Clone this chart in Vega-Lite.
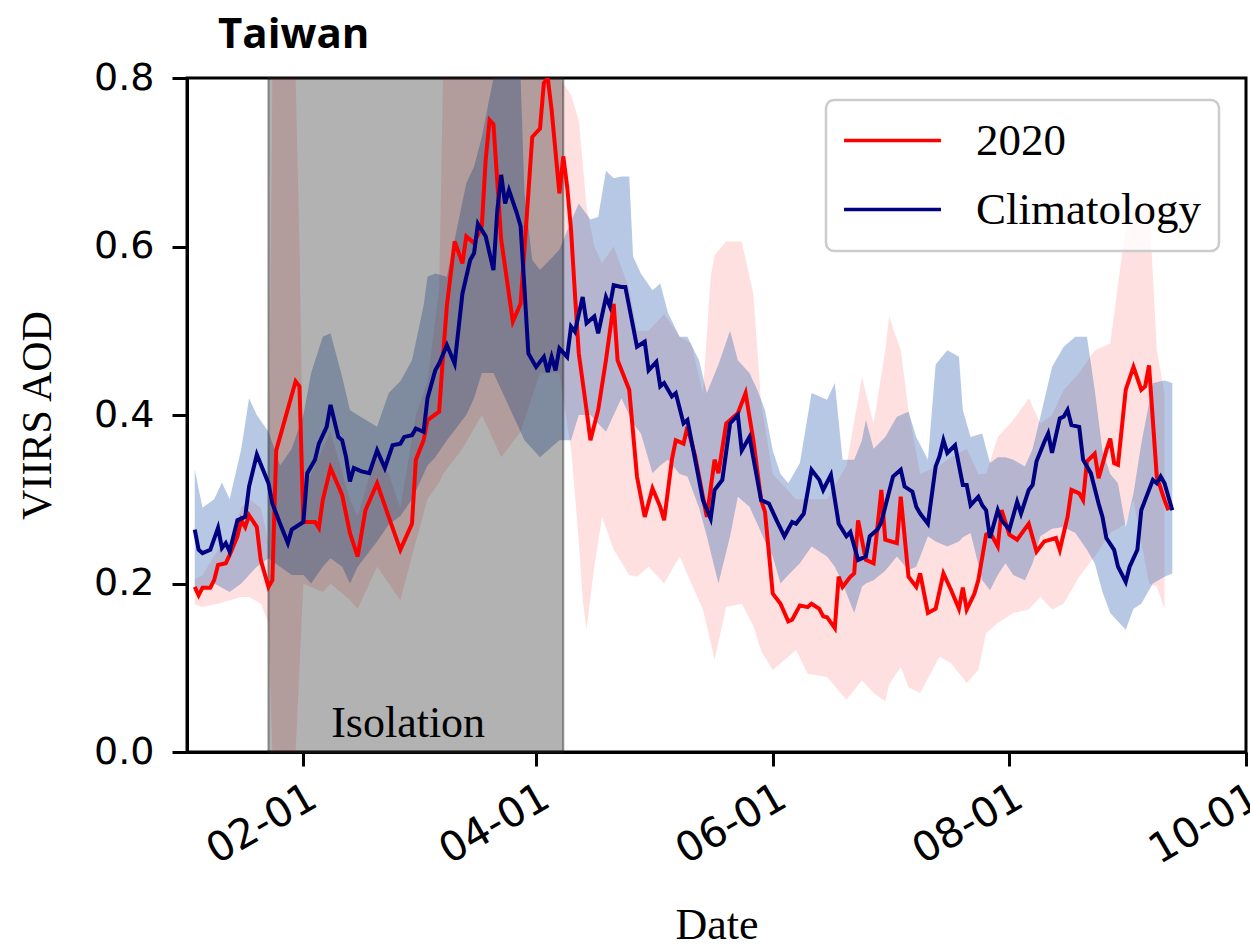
{
"$schema": "https://vega.github.io/schema/vega-lite/v6.json",
"width": 1059, "height": 674,
"autosize": {"type": "none"},
"padding": {"left": 187, "top": 78, "right": 4, "bottom": 196},
"background": "white",
"title": {"text": "Taiwan", "anchor": "start", "frame": "group", "dx": 31, "dy": 60, "offset": 29, "baseline": "alphabetic", "font": "Open Sans", "fontWeight": "bold", "fontSize": 42, "color": "black"},
"config": {
  "view": {"stroke": "black", "strokeWidth": 3},
  "legend": {"strokeColor": "#cccccc", "strokeWidth": 2.5, "cornerRadius": 8, "fillColor": "rgba(255,255,255,0.8)", "padding": 16}
},
"datasets": {
"lines": [
{"date":"2020-01-04","series":"2020","aod":0.196},{"date":"2020-01-05","series":"2020","aod":0.186},{"date":"2020-01-06","series":"2020","aod":0.195},{"date":"2020-01-08","series":"2020","aod":0.195},{"date":"2020-01-09","series":"2020","aod":0.204},{"date":"2020-01-10","series":"2020","aod":0.222},{"date":"2020-01-12","series":"2020","aod":0.224},{"date":"2020-01-13","series":"2020","aod":0.234},{"date":"2020-01-15","series":"2020","aod":0.256},{"date":"2020-01-16","series":"2020","aod":0.275},{"date":"2020-01-17","series":"2020","aod":0.267},{"date":"2020-01-18","series":"2020","aod":0.281},{"date":"2020-01-20","series":"2020","aod":0.267},{"date":"2020-01-21","series":"2020","aod":0.228},{"date":"2020-01-23","series":"2020","aod":0.196},{"date":"2020-01-24","series":"2020","aod":0.204},{"date":"2020-01-25","series":"2020","aod":0.358},{"date":"2020-01-30","series":"2020","aod":0.44},{"date":"2020-01-31","series":"2020","aod":0.434},{"date":"2020-02-01","series":"2020","aod":0.273},{"date":"2020-02-04","series":"2020","aod":0.273},{"date":"2020-02-05","series":"2020","aod":0.266},{"date":"2020-02-06","series":"2020","aod":0.299},{"date":"2020-02-08","series":"2020","aod":0.337},{"date":"2020-02-11","series":"2020","aod":0.305},{"date":"2020-02-13","series":"2020","aod":0.26},{"date":"2020-02-15","series":"2020","aod":0.232},{"date":"2020-02-17","series":"2020","aod":0.287},{"date":"2020-02-20","series":"2020","aod":0.319},{"date":"2020-02-23","series":"2020","aod":0.279},{"date":"2020-02-26","series":"2020","aod":0.24},{"date":"2020-02-29","series":"2020","aod":0.271},{"date":"2020-03-01","series":"2020","aod":0.347},{"date":"2020-03-03","series":"2020","aod":0.37},{"date":"2020-03-04","series":"2020","aod":0.394},{"date":"2020-03-07","series":"2020","aod":0.404},{"date":"2020-03-08","series":"2020","aod":0.47},{"date":"2020-03-09","series":"2020","aod":0.53},{"date":"2020-03-10","series":"2020","aod":0.568},{"date":"2020-03-11","series":"2020","aod":0.606},{"date":"2020-03-13","series":"2020","aod":0.58},{"date":"2020-03-14","series":"2020","aod":0.612},{"date":"2020-03-16","series":"2020","aod":0.604},{"date":"2020-03-18","series":"2020","aod":0.624},{"date":"2020-03-19","series":"2020","aod":0.703},{"date":"2020-03-20","series":"2020","aod":0.75},{"date":"2020-03-21","series":"2020","aod":0.745},{"date":"2020-03-23","series":"2020","aod":0.608},{"date":"2020-03-26","series":"2020","aod":0.511},{"date":"2020-03-28","series":"2020","aod":0.532},{"date":"2020-03-30","series":"2020","aod":0.663},{"date":"2020-03-31","series":"2020","aod":0.73},{"date":"2020-04-01","series":"2020","aod":0.735},{"date":"2020-04-02","series":"2020","aod":0.74},{"date":"2020-04-03","series":"2020","aod":0.794},{"date":"2020-04-04","series":"2020","aod":0.8},{"date":"2020-04-05","series":"2020","aod":0.762},{"date":"2020-04-07","series":"2020","aod":0.663},{"date":"2020-04-08","series":"2020","aod":0.707},{"date":"2020-04-09","series":"2020","aod":0.671},{"date":"2020-04-10","series":"2020","aod":0.62},{"date":"2020-04-11","series":"2020","aod":0.544},{"date":"2020-04-12","series":"2020","aod":0.473},{"date":"2020-04-14","series":"2020","aod":0.406},{"date":"2020-04-15","series":"2020","aod":0.37},{"date":"2020-04-17","series":"2020","aod":0.406},{"date":"2020-04-19","series":"2020","aod":0.465},{"date":"2020-04-21","series":"2020","aod":0.532},{"date":"2020-04-22","series":"2020","aod":0.465},{"date":"2020-04-25","series":"2020","aod":0.43},{"date":"2020-04-27","series":"2020","aod":0.327},{"date":"2020-04-29","series":"2020","aod":0.279},{"date":"2020-05-01","series":"2020","aod":0.313},{"date":"2020-05-03","series":"2020","aod":0.291},{"date":"2020-05-04","series":"2020","aod":0.275},{"date":"2020-05-06","series":"2020","aod":0.347},{"date":"2020-05-07","series":"2020","aod":0.37},{"date":"2020-05-09","series":"2020","aod":0.366},{"date":"2020-05-10","series":"2020","aod":0.386},{"date":"2020-05-12","series":"2020","aod":0.351},{"date":"2020-05-15","series":"2020","aod":0.279},{"date":"2020-05-17","series":"2020","aod":0.347},{"date":"2020-05-18","series":"2020","aod":0.331},{"date":"2020-05-20","series":"2020","aod":0.39},{"date":"2020-05-23","series":"2020","aod":0.402},{"date":"2020-05-25","series":"2020","aod":0.426},{"date":"2020-05-27","series":"2020","aod":0.37},{"date":"2020-05-29","series":"2020","aod":0.299},{"date":"2020-05-30","series":"2020","aod":0.285},{"date":"2020-06-01","series":"2020","aod":0.188},{"date":"2020-06-03","series":"2020","aod":0.176},{"date":"2020-06-05","series":"2020","aod":0.155},{"date":"2020-06-06","series":"2020","aod":0.157},{"date":"2020-06-08","series":"2020","aod":0.174},{"date":"2020-06-10","series":"2020","aod":0.172},{"date":"2020-06-11","series":"2020","aod":0.176},{"date":"2020-06-13","series":"2020","aod":0.17},{"date":"2020-06-14","series":"2020","aod":0.161},{"date":"2020-06-15","series":"2020","aod":0.16},{"date":"2020-06-17","series":"2020","aod":0.147},{"date":"2020-06-18","series":"2020","aod":0.208},{"date":"2020-06-19","series":"2020","aod":0.196},{"date":"2020-06-21","series":"2020","aod":0.208},{"date":"2020-06-22","series":"2020","aod":0.212},{"date":"2020-06-23","series":"2020","aod":0.275},{"date":"2020-06-25","series":"2020","aod":0.228},{"date":"2020-06-27","series":"2020","aod":0.224},{"date":"2020-06-28","series":"2020","aod":0.267},{"date":"2020-06-29","series":"2020","aod":0.311},{"date":"2020-06-30","series":"2020","aod":0.252},{"date":"2020-07-03","series":"2020","aod":0.248},{"date":"2020-07-04","series":"2020","aod":0.303},{"date":"2020-07-06","series":"2020","aod":0.208},{"date":"2020-07-08","series":"2020","aod":0.196},{"date":"2020-07-09","series":"2020","aod":0.212},{"date":"2020-07-11","series":"2020","aod":0.165},{"date":"2020-07-13","series":"2020","aod":0.17},{"date":"2020-07-15","series":"2020","aod":0.212},{"date":"2020-07-17","series":"2020","aod":0.192},{"date":"2020-07-19","series":"2020","aod":0.17},{"date":"2020-07-20","series":"2020","aod":0.195},{"date":"2020-07-21","series":"2020","aod":0.169},{"date":"2020-07-23","series":"2020","aod":0.188},{"date":"2020-07-24","series":"2020","aod":0.204},{"date":"2020-07-26","series":"2020","aod":0.258},{"date":"2020-07-27","series":"2020","aod":0.261},{"date":"2020-07-29","series":"2020","aod":0.244},{"date":"2020-07-30","series":"2020","aod":0.287},{"date":"2020-08-01","series":"2020","aod":0.258},{"date":"2020-08-03","series":"2020","aod":0.252},{"date":"2020-08-06","series":"2020","aod":0.271},{"date":"2020-08-08","series":"2020","aod":0.238},{"date":"2020-08-10","series":"2020","aod":0.25},{"date":"2020-08-13","series":"2020","aod":0.254},{"date":"2020-08-14","series":"2020","aod":0.24},{"date":"2020-08-16","series":"2020","aod":0.279},{"date":"2020-08-17","series":"2020","aod":0.311},{"date":"2020-08-19","series":"2020","aod":0.307},{"date":"2020-08-20","series":"2020","aod":0.299},{"date":"2020-08-21","series":"2020","aod":0.345},{"date":"2020-08-23","series":"2020","aod":0.354},{"date":"2020-08-24","series":"2020","aod":0.325},{"date":"2020-08-26","series":"2020","aod":0.358},{"date":"2020-08-27","series":"2020","aod":0.372},{"date":"2020-08-28","series":"2020","aod":0.343},{"date":"2020-08-29","series":"2020","aod":0.341},{"date":"2020-08-31","series":"2020","aod":0.43},{"date":"2020-09-02","series":"2020","aod":0.457},{"date":"2020-09-04","series":"2020","aod":0.43},{"date":"2020-09-05","series":"2020","aod":0.434},{"date":"2020-09-06","series":"2020","aod":0.459},{"date":"2020-09-08","series":"2020","aod":0.327},{"date":"2020-09-10","series":"2020","aod":0.299},{"date":"2020-09-11","series":"2020","aod":0.287},
{"date":"2020-01-04","series":"Climatology","aod":0.264},{"date":"2020-01-05","series":"Climatology","aod":0.24},{"date":"2020-01-06","series":"Climatology","aod":0.236},{"date":"2020-01-08","series":"Climatology","aod":0.24},{"date":"2020-01-10","series":"Climatology","aod":0.266},{"date":"2020-01-11","series":"Climatology","aod":0.242},{"date":"2020-01-12","series":"Climatology","aod":0.248},{"date":"2020-01-13","series":"Climatology","aod":0.238},{"date":"2020-01-15","series":"Climatology","aod":0.275},{"date":"2020-01-17","series":"Climatology","aod":0.279},{"date":"2020-01-18","series":"Climatology","aod":0.315},{"date":"2020-01-20","series":"Climatology","aod":0.353},{"date":"2020-01-23","series":"Climatology","aod":0.319},{"date":"2020-01-24","series":"Climatology","aod":0.295},{"date":"2020-01-26","series":"Climatology","aod":0.271},{"date":"2020-01-28","series":"Climatology","aod":0.248},{"date":"2020-01-29","series":"Climatology","aod":0.264},{"date":"2020-02-01","series":"Climatology","aod":0.273},{"date":"2020-02-02","series":"Climatology","aod":0.331},{"date":"2020-02-04","series":"Climatology","aod":0.347},{"date":"2020-02-05","series":"Climatology","aod":0.366},{"date":"2020-02-07","series":"Climatology","aod":0.386},{"date":"2020-02-08","series":"Climatology","aod":0.412},{"date":"2020-02-10","series":"Climatology","aod":0.374},{"date":"2020-02-11","series":"Climatology","aod":0.37},{"date":"2020-02-12","series":"Climatology","aod":0.35},{"date":"2020-02-13","series":"Climatology","aod":0.321},{"date":"2020-02-14","series":"Climatology","aod":0.337},{"date":"2020-02-16","series":"Climatology","aod":0.333},{"date":"2020-02-18","series":"Climatology","aod":0.331},{"date":"2020-02-20","series":"Climatology","aod":0.358},{"date":"2020-02-22","series":"Climatology","aod":0.337},{"date":"2020-02-24","series":"Climatology","aod":0.364},{"date":"2020-02-26","series":"Climatology","aod":0.366},{"date":"2020-02-27","series":"Climatology","aod":0.374},{"date":"2020-02-29","series":"Climatology","aod":0.376},{"date":"2020-03-01","series":"Climatology","aod":0.384},{"date":"2020-03-03","series":"Climatology","aod":0.38},{"date":"2020-03-04","series":"Climatology","aod":0.42},{"date":"2020-03-06","series":"Climatology","aod":0.453},{"date":"2020-03-07","series":"Climatology","aod":0.461},{"date":"2020-03-09","series":"Climatology","aod":0.483},{"date":"2020-03-11","series":"Climatology","aod":0.461},{"date":"2020-03-13","series":"Climatology","aod":0.544},{"date":"2020-03-15","series":"Climatology","aod":0.584},{"date":"2020-03-16","series":"Climatology","aod":0.592},{"date":"2020-03-17","series":"Climatology","aod":0.627},{"date":"2020-03-19","series":"Climatology","aod":0.612},{"date":"2020-03-20","series":"Climatology","aod":0.592},{"date":"2020-03-21","series":"Climatology","aod":0.572},{"date":"2020-03-22","series":"Climatology","aod":0.643},{"date":"2020-03-23","series":"Climatology","aod":0.685},{"date":"2020-03-24","series":"Climatology","aod":0.651},{"date":"2020-03-25","series":"Climatology","aod":0.667},{"date":"2020-03-27","series":"Climatology","aod":0.64},{"date":"2020-03-28","series":"Climatology","aod":0.624},{"date":"2020-03-29","series":"Climatology","aod":0.55},{"date":"2020-03-30","series":"Climatology","aod":0.473},{"date":"2020-04-01","series":"Climatology","aod":0.457},{"date":"2020-04-03","series":"Climatology","aod":0.469},{"date":"2020-04-04","series":"Climatology","aod":0.451},{"date":"2020-04-05","series":"Climatology","aod":0.469},{"date":"2020-04-06","series":"Climatology","aod":0.453},{"date":"2020-04-07","series":"Climatology","aod":0.479},{"date":"2020-04-09","series":"Climatology","aod":0.469},{"date":"2020-04-10","series":"Climatology","aod":0.505},{"date":"2020-04-11","series":"Climatology","aod":0.499},{"date":"2020-04-13","series":"Climatology","aod":0.54},{"date":"2020-04-14","series":"Climatology","aod":0.509},{"date":"2020-04-16","series":"Climatology","aod":0.517},{"date":"2020-04-17","series":"Climatology","aod":0.497},{"date":"2020-04-19","series":"Climatology","aod":0.54},{"date":"2020-04-20","series":"Climatology","aod":0.529},{"date":"2020-04-21","series":"Climatology","aod":0.554},{"date":"2020-04-23","series":"Climatology","aod":0.552},{"date":"2020-04-24","series":"Climatology","aod":0.552},{"date":"2020-04-26","series":"Climatology","aod":0.505},{"date":"2020-04-27","series":"Climatology","aod":0.481},{"date":"2020-04-29","series":"Climatology","aod":0.487},{"date":"2020-04-30","series":"Climatology","aod":0.453},{"date":"2020-05-02","series":"Climatology","aod":0.463},{"date":"2020-05-03","series":"Climatology","aod":0.434},{"date":"2020-05-04","series":"Climatology","aod":0.438},{"date":"2020-05-06","series":"Climatology","aod":0.422},{"date":"2020-05-07","series":"Climatology","aod":0.426},{"date":"2020-05-09","series":"Climatology","aod":0.39},{"date":"2020-05-10","series":"Climatology","aod":0.394},{"date":"2020-05-12","series":"Climatology","aod":0.347},{"date":"2020-05-14","series":"Climatology","aod":0.299},{"date":"2020-05-16","series":"Climatology","aod":0.277},{"date":"2020-05-17","series":"Climatology","aod":0.311},{"date":"2020-05-19","series":"Climatology","aod":0.323},{"date":"2020-05-21","series":"Climatology","aod":0.39},{"date":"2020-05-23","series":"Climatology","aod":0.4},{"date":"2020-05-24","series":"Climatology","aod":0.358},{"date":"2020-05-26","series":"Climatology","aod":0.374},{"date":"2020-05-29","series":"Climatology","aod":0.299},{"date":"2020-05-31","series":"Climatology","aod":0.295},{"date":"2020-06-02","series":"Climatology","aod":0.275},{"date":"2020-06-04","series":"Climatology","aod":0.256},{"date":"2020-06-06","series":"Climatology","aod":0.273},{"date":"2020-06-07","series":"Climatology","aod":0.271},{"date":"2020-06-09","series":"Climatology","aod":0.283},{"date":"2020-06-11","series":"Climatology","aod":0.335},{"date":"2020-06-13","series":"Climatology","aod":0.323},{"date":"2020-06-14","series":"Climatology","aod":0.311},{"date":"2020-06-16","series":"Climatology","aod":0.329},{"date":"2020-06-18","series":"Climatology","aod":0.271},{"date":"2020-06-20","series":"Climatology","aod":0.256},{"date":"2020-06-21","series":"Climatology","aod":0.261},{"date":"2020-06-23","series":"Climatology","aod":0.228},{"date":"2020-06-25","series":"Climatology","aod":0.232},{"date":"2020-06-26","series":"Climatology","aod":0.256},{"date":"2020-06-28","series":"Climatology","aod":0.264},{"date":"2020-06-29","series":"Climatology","aod":0.273},{"date":"2020-07-02","series":"Climatology","aod":0.327},{"date":"2020-07-04","series":"Climatology","aod":0.335},{"date":"2020-07-05","series":"Climatology","aod":0.315},{"date":"2020-07-07","series":"Climatology","aod":0.309},{"date":"2020-07-08","series":"Climatology","aod":0.291},{"date":"2020-07-09","series":"Climatology","aod":0.283},{"date":"2020-07-11","series":"Climatology","aod":0.271},{"date":"2020-07-13","series":"Climatology","aod":0.339},{"date":"2020-07-14","series":"Climatology","aod":0.351},{"date":"2020-07-15","series":"Climatology","aod":0.37},{"date":"2020-07-16","series":"Climatology","aod":0.355},{"date":"2020-07-18","series":"Climatology","aod":0.364},{"date":"2020-07-20","series":"Climatology","aod":0.317},{"date":"2020-07-21","series":"Climatology","aod":0.317},{"date":"2020-07-22","series":"Climatology","aod":0.293},{"date":"2020-07-24","series":"Climatology","aod":0.303},{"date":"2020-07-25","series":"Climatology","aod":0.293},{"date":"2020-07-26","series":"Climatology","aod":0.287},{"date":"2020-07-27","series":"Climatology","aod":0.254},{"date":"2020-07-29","series":"Climatology","aod":0.287},{"date":"2020-07-30","series":"Climatology","aod":0.275},{"date":"2020-08-01","series":"Climatology","aod":0.264},{"date":"2020-08-03","series":"Climatology","aod":0.297},{"date":"2020-08-04","series":"Climatology","aod":0.283},{"date":"2020-08-06","series":"Climatology","aod":0.311},{"date":"2020-08-07","series":"Climatology","aod":0.317},{"date":"2020-08-08","series":"Climatology","aod":0.345},{"date":"2020-08-10","series":"Climatology","aod":0.368},{"date":"2020-08-11","series":"Climatology","aod":0.378},{"date":"2020-08-12","series":"Climatology","aod":0.355},{"date":"2020-08-14","series":"Climatology","aod":0.396},{"date":"2020-08-15","series":"Climatology","aod":0.398},{"date":"2020-08-16","series":"Climatology","aod":0.406},{"date":"2020-08-17","series":"Climatology","aod":0.388},{"date":"2020-08-19","series":"Climatology","aod":0.386},{"date":"2020-08-20","series":"Climatology","aod":0.347},{"date":"2020-08-22","series":"Climatology","aod":0.331},{"date":"2020-08-24","series":"Climatology","aod":0.295},{"date":"2020-08-25","series":"Climatology","aod":0.279},{"date":"2020-08-26","series":"Climatology","aod":0.254},{"date":"2020-08-28","series":"Climatology","aod":0.24},{"date":"2020-08-29","series":"Climatology","aod":0.22},{"date":"2020-08-31","series":"Climatology","aod":0.202},{"date":"2020-09-01","series":"Climatology","aod":0.22},{"date":"2020-09-03","series":"Climatology","aod":0.24},{"date":"2020-09-04","series":"Climatology","aod":0.287},{"date":"2020-09-07","series":"Climatology","aod":0.323},{"date":"2020-09-08","series":"Climatology","aod":0.319},{"date":"2020-09-09","series":"Climatology","aod":0.327},{"date":"2020-09-10","series":"Climatology","aod":0.319},{"date":"2020-09-12","series":"Climatology","aod":0.287}
],
"bandRed": [
{"date":"2020-01-04","lo":0.175,"hi":0.205},{"date":"2020-01-06","lo":0.172,"hi":0.21},{"date":"2020-01-10","lo":0.176,"hi":0.24},{"date":"2020-01-13","lo":0.18,"hi":0.25},{"date":"2020-01-16","lo":0.184,"hi":0.29},{"date":"2020-01-18","lo":0.184,"hi":0.3},{"date":"2020-01-21","lo":0.176,"hi":0.29},{"date":"2020-01-23","lo":0.153,"hi":0.25},{"date":"2020-01-24","lo":0.0,"hi":0.8},{"date":"2020-01-30","lo":0.0,"hi":0.8},{"date":"2020-01-31","lo":0.1,"hi":0.6},{"date":"2020-02-01","lo":0.2,"hi":0.31},{"date":"2020-02-06","lo":0.19,"hi":0.36},{"date":"2020-02-08","lo":0.2,"hi":0.38},{"date":"2020-02-13","lo":0.18,"hi":0.3},{"date":"2020-02-15","lo":0.17,"hi":0.28},{"date":"2020-02-20","lo":0.22,"hi":0.36},{"date":"2020-02-23","lo":0.2,"hi":0.33},{"date":"2020-02-26","lo":0.18,"hi":0.29},{"date":"2020-03-01","lo":0.25,"hi":0.4},{"date":"2020-03-04","lo":0.3,"hi":0.44},{"date":"2020-03-07","lo":0.32,"hi":0.55},{"date":"2020-03-08","lo":0.33,"hi":0.8},{"date":"2020-03-13","lo":0.36,"hi":0.8},{"date":"2020-03-18","lo":0.4,"hi":0.8},{"date":"2020-03-23","lo":0.35,"hi":0.8},{"date":"2020-03-28","lo":0.38,"hi":0.8},{"date":"2020-04-02","lo":0.45,"hi":0.8},{"date":"2020-04-07","lo":0.45,"hi":0.8},{"date":"2020-04-10","lo":0.36,"hi":0.78},{"date":"2020-04-12","lo":0.25,"hi":0.75},{"date":"2020-04-13","lo":0.18,"hi":0.7},{"date":"2020-04-14","lo":0.145,"hi":0.647},{"date":"2020-04-16","lo":0.22,"hi":0.6},{"date":"2020-04-18","lo":0.279,"hi":0.58},{"date":"2020-04-21","lo":0.24,"hi":0.6},{"date":"2020-04-25","lo":0.21,"hi":0.55},{"date":"2020-04-27","lo":0.208,"hi":0.5},{"date":"2020-04-30","lo":0.22,"hi":0.5},{"date":"2020-05-04","lo":0.2,"hi":0.52},{"date":"2020-05-08","lo":0.232,"hi":0.493},{"date":"2020-05-11","lo":0.2,"hi":0.485},{"date":"2020-05-14","lo":0.169,"hi":0.426},{"date":"2020-05-16","lo":0.13,"hi":0.564},{"date":"2020-05-17","lo":0.109,"hi":0.59},{"date":"2020-05-20","lo":0.172,"hi":0.606},{"date":"2020-05-24","lo":0.176,"hi":0.606},{"date":"2020-05-27","lo":0.15,"hi":0.544},{"date":"2020-05-29","lo":0.12,"hi":0.415},{"date":"2020-06-01","lo":0.097,"hi":0.33},{"date":"2020-06-07","lo":0.121,"hi":0.3},{"date":"2020-06-10","lo":0.093,"hi":0.3},{"date":"2020-06-15","lo":0.089,"hi":0.3},{"date":"2020-06-20","lo":0.062,"hi":0.34},{"date":"2020-06-24","lo":0.085,"hi":0.445},{"date":"2020-06-27","lo":0.07,"hi":0.39},{"date":"2020-06-30","lo":0.06,"hi":0.477},{"date":"2020-07-01","lo":0.08,"hi":0.517},{"date":"2020-07-04","lo":0.101,"hi":0.477},{"date":"2020-07-06","lo":0.077,"hi":0.406},{"date":"2020-07-09","lo":0.07,"hi":0.33},{"date":"2020-07-14","lo":0.113,"hi":0.34},{"date":"2020-07-17","lo":0.105,"hi":0.35},{"date":"2020-07-21","lo":0.082,"hi":0.36},{"date":"2020-07-24","lo":0.097,"hi":0.33},{"date":"2020-07-26","lo":0.141,"hi":0.33},{"date":"2020-07-29","lo":0.153,"hi":0.374},{"date":"2020-08-02","lo":0.165,"hi":0.394},{"date":"2020-08-06","lo":0.169,"hi":0.42},{"date":"2020-08-09","lo":0.184,"hi":0.39},{"date":"2020-08-12","lo":0.169,"hi":0.4},{"date":"2020-08-15","lo":0.176,"hi":0.43},{"date":"2020-08-19","lo":0.208,"hi":0.45},{"date":"2020-08-23","lo":0.232,"hi":0.477},{"date":"2020-08-27","lo":0.26,"hi":0.485},{"date":"2020-08-31","lo":0.271,"hi":0.624},{"date":"2020-09-02","lo":0.299,"hi":0.643},{"date":"2020-09-06","lo":0.2,"hi":0.655},{"date":"2020-09-08","lo":0.196,"hi":0.477},{"date":"2020-09-10","lo":0.17,"hi":0.426}
],
"bandClim": [
{"date":"2020-01-04","lo":0.19,"hi":0.335},{"date":"2020-01-06","lo":0.195,"hi":0.29},{"date":"2020-01-09","lo":0.2,"hi":0.3},{"date":"2020-01-11","lo":0.195,"hi":0.32},{"date":"2020-01-13","lo":0.19,"hi":0.3},{"date":"2020-01-16","lo":0.2,"hi":0.36},{"date":"2020-01-18","lo":0.21,"hi":0.42},{"date":"2020-01-20","lo":0.22,"hi":0.4},{"date":"2020-01-23","lo":0.23,"hi":0.38},{"date":"2020-01-26","lo":0.22,"hi":0.34},{"date":"2020-01-29","lo":0.21,"hi":0.36},{"date":"2020-02-01","lo":0.21,"hi":0.4},{"date":"2020-02-03","lo":0.2,"hi":0.45},{"date":"2020-02-06","lo":0.22,"hi":0.493},{"date":"2020-02-08","lo":0.23,"hi":0.497},{"date":"2020-02-11","lo":0.22,"hi":0.445},{"date":"2020-02-13","lo":0.2,"hi":0.406},{"date":"2020-02-15","lo":0.22,"hi":0.4},{"date":"2020-02-20","lo":0.25,"hi":0.386},{"date":"2020-02-23","lo":0.27,"hi":0.426},{"date":"2020-02-26","lo":0.28,"hi":0.44},{"date":"2020-02-29","lo":0.3,"hi":0.465},{"date":"2020-03-03","lo":0.33,"hi":0.53},{"date":"2020-03-04","lo":0.34,"hi":0.564},{"date":"2020-03-06","lo":0.35,"hi":0.568},{"date":"2020-03-09","lo":0.37,"hi":0.564},{"date":"2020-03-14","lo":0.4,"hi":0.675},{"date":"2020-03-16","lo":0.42,"hi":0.695},{"date":"2020-03-18","lo":0.45,"hi":0.73},{"date":"2020-03-21","lo":0.45,"hi":0.8},{"date":"2020-03-23","lo":0.43,"hi":0.8},{"date":"2020-03-28","lo":0.38,"hi":0.8},{"date":"2020-03-29","lo":0.37,"hi":0.663},{"date":"2020-03-31","lo":0.36,"hi":0.584},{"date":"2020-04-02","lo":0.35,"hi":0.572},{"date":"2020-04-07","lo":0.37,"hi":0.596},{"date":"2020-04-10","lo":0.37,"hi":0.63},{"date":"2020-04-12","lo":0.4,"hi":0.651},{"date":"2020-04-15","lo":0.4,"hi":0.632},{"date":"2020-04-17","lo":0.39,"hi":0.635},{"date":"2020-04-19","lo":0.38,"hi":0.69},{"date":"2020-04-21","lo":0.4,"hi":0.681},{"date":"2020-04-23","lo":0.42,"hi":0.683},{"date":"2020-04-25","lo":0.4,"hi":0.683},{"date":"2020-04-26","lo":0.39,"hi":0.588},{"date":"2020-04-28","lo":0.378,"hi":0.568},{"date":"2020-05-01","lo":0.331,"hi":0.548},{"date":"2020-05-03","lo":0.34,"hi":0.556},{"date":"2020-05-05","lo":0.347,"hi":0.521},{"date":"2020-05-08","lo":0.33,"hi":0.493},{"date":"2020-05-10","lo":0.327,"hi":0.493},{"date":"2020-05-13","lo":0.29,"hi":0.465},{"date":"2020-05-15","lo":0.256,"hi":0.426},{"date":"2020-05-18","lo":0.2,"hi":0.46},{"date":"2020-05-21","lo":0.256,"hi":0.5},{"date":"2020-05-23","lo":0.303,"hi":0.465},{"date":"2020-05-26","lo":0.291,"hi":0.45},{"date":"2020-05-28","lo":0.271,"hi":0.43},{"date":"2020-05-30","lo":0.25,"hi":0.406},{"date":"2020-06-01","lo":0.232,"hi":0.358},{"date":"2020-06-03","lo":0.2,"hi":0.33},{"date":"2020-06-05","lo":0.21,"hi":0.319},{"date":"2020-06-08","lo":0.224,"hi":0.343},{"date":"2020-06-11","lo":0.244,"hi":0.426},{"date":"2020-06-15","lo":0.232,"hi":0.418},{"date":"2020-06-17","lo":0.22,"hi":0.438},{"date":"2020-06-19","lo":0.2,"hi":0.347},{"date":"2020-06-22","lo":0.165,"hi":0.347},{"date":"2020-06-24","lo":0.196,"hi":0.37},{"date":"2020-06-25","lo":0.2,"hi":0.394},{"date":"2020-06-27","lo":0.204,"hi":0.36},{"date":"2020-06-30","lo":0.215,"hi":0.374},{"date":"2020-07-03","lo":0.232,"hi":0.398},{"date":"2020-07-06","lo":0.216,"hi":0.404},{"date":"2020-07-08","lo":0.22,"hi":0.374},{"date":"2020-07-11","lo":0.256,"hi":0.347},{"date":"2020-07-13","lo":0.25,"hi":0.46},{"date":"2020-07-16","lo":0.244,"hi":0.477},{"date":"2020-07-19","lo":0.25,"hi":0.469},{"date":"2020-07-20","lo":0.255,"hi":0.406},{"date":"2020-07-22","lo":0.26,"hi":0.374},{"date":"2020-07-25","lo":0.204,"hi":0.378},{"date":"2020-07-27","lo":0.192,"hi":0.343},{"date":"2020-07-29","lo":0.21,"hi":0.35},{"date":"2020-07-31","lo":0.224,"hi":0.35},{"date":"2020-08-02","lo":0.21,"hi":0.347},{"date":"2020-08-05","lo":0.204,"hi":0.339},{"date":"2020-08-07","lo":0.224,"hi":0.36},{"date":"2020-08-09","lo":0.256,"hi":0.398},{"date":"2020-08-12","lo":0.265,"hi":0.457},{"date":"2020-08-15","lo":0.267,"hi":0.481},{"date":"2020-08-18","lo":0.26,"hi":0.493},{"date":"2020-08-21","lo":0.24,"hi":0.493},{"date":"2020-08-23","lo":0.224,"hi":0.43},{"date":"2020-08-25","lo":0.19,"hi":0.358},{"date":"2020-08-27","lo":0.165,"hi":0.33},{"date":"2020-08-29","lo":0.155,"hi":0.319},{"date":"2020-08-31","lo":0.145,"hi":0.267},{"date":"2020-09-02","lo":0.17,"hi":0.307},{"date":"2020-09-04","lo":0.176,"hi":0.366},{"date":"2020-09-07","lo":0.2,"hi":0.438},{"date":"2020-09-10","lo":0.208,"hi":0.441},{"date":"2020-09-12","lo":0.212,"hi":0.438}
],
"iso": [{"start":"2020-01-23","end":"2020-04-08","mid":"2020-02-28","base":0,"label":"Isolation"}]
},
"layer": [
{
  "data": {"name": "bandRed"},
  "mark": {"type": "area", "color": "#ff0000", "opacity": 0.12, "clip": true},
  "encoding": {
    "x": {"field": "date", "type": "temporal", "scale": {"type": "utc", "domain": [{"year":2020,"month":1,"date":2,"utc":true},{"year":2020,"month":10,"date":1,"utc":true}]},
      "axis": {"title": "Date", "values": [{"year":2020,"month":2,"date":1,"utc":true},{"year":2020,"month":4,"date":1,"utc":true},{"year":2020,"month":6,"date":1,"utc":true},{"year":2020,"month":8,"date":1,"utc":true},{"year":2020,"month":10,"date":1,"utc":true}], "labelExpr": "utcFormat(datum.value, '%m-%d')", "labelAngle": -30, "labelAlign": "right", "labelBaseline": "top", "labelFont": "DejaVu Sans", "labelFontSize": 41, "labelColor": "black", "labelPadding": 11, "labelDx": -8, "labelFlush": false, "labelOverlap": false, "tickSize": 14, "tickWidth": 3, "tickColor": "black", "domainColor": "black", "domainWidth": 3, "grid": false, "titleFont": "Liberation Serif", "titleFontSize": 44, "titleFontWeight": "normal", "titleColor": "black", "titleY": 186, "titleBaseline": "alphabetic"}},
    "y": {"field": "lo", "type": "quantitative", "scale": {"domain": [0, 0.8]},
      "axis": {"title": "VIIRS AOD", "values": [0, 0.2, 0.4, 0.6, 0.8], "format": ".1f", "labelFont": "DejaVu Sans", "labelFontSize": 38, "labelColor": "black", "labelPadding": 18, "labelFlush": false, "tickSize": 15, "tickWidth": 3, "tickColor": "black", "domainColor": "black", "domainWidth": 3, "grid": false, "titleFont": "Liberation Serif", "titleFontSize": 42, "titleFontWeight": "normal", "titleColor": "black", "titleX": -150, "titleY": 337, "titleAngle": -90, "titleBaseline": "middle", "titleAlign": "center"}},
    "y2": {"field": "hi"}
  }
},
{
  "data": {"name": "bandClim"},
  "mark": {"type": "area", "color": "#3f6fb5", "opacity": 0.38, "clip": true},
  "encoding": {
    "x": {"field": "date", "type": "temporal", "title": "Date"},
    "y": {"field": "lo", "type": "quantitative", "title": "VIIRS AOD"},
    "y2": {"field": "hi"}
  }
},
{
  "data": {"name": "iso"},
  "mark": {"type": "rect", "fill": "black", "fillOpacity": 0.3, "stroke": "#222222", "strokeOpacity": 0.45, "strokeWidth": 2},
  "encoding": {
    "x": {"field": "start", "type": "temporal", "title": "Date"},
    "x2": {"field": "end"}
  }
},
{
  "data": {"name": "iso"},
  "mark": {"type": "text", "font": "Liberation Serif", "fontSize": 44, "baseline": "alphabetic", "align": "center", "dy": -15, "color": "black"},
  "encoding": {
    "x": {"field": "mid", "type": "temporal", "title": "Date"},
    "y": {"field": "base", "type": "quantitative", "title": "VIIRS AOD"},
    "text": {"field": "label"}
  }
},
{
  "data": {"name": "lines"},
  "mark": {"type": "line", "strokeWidth": 4, "clip": true},
  "encoding": {
    "x": {"field": "date", "type": "temporal", "title": "Date"},
    "y": {"field": "aod", "type": "quantitative", "title": "VIIRS AOD"},
    "color": {"field": "series", "type": "nominal", "scale": {"domain": ["2020", "Climatology"], "range": ["#ff0000", "#000080"]},
      "legend": {"orient": "none", "legendX": 639, "legendY": 22, "title": null, "symbolType": "M-3.03,0H3.03", "symbolSize": 1024, "symbolStrokeWidth": 3.5, "symbolOffset": 26, "labelFont": "Liberation Serif", "labelFontSize": 45, "labelColor": "black", "labelOffset": 61, "labelLimit": 400, "rowPadding": 23, "padding": 18, "cornerRadius": 8, "fillColor": "rgba(255,255,255,0.8)", "strokeColor": "#cccccc"}}
  }
}
]
}
